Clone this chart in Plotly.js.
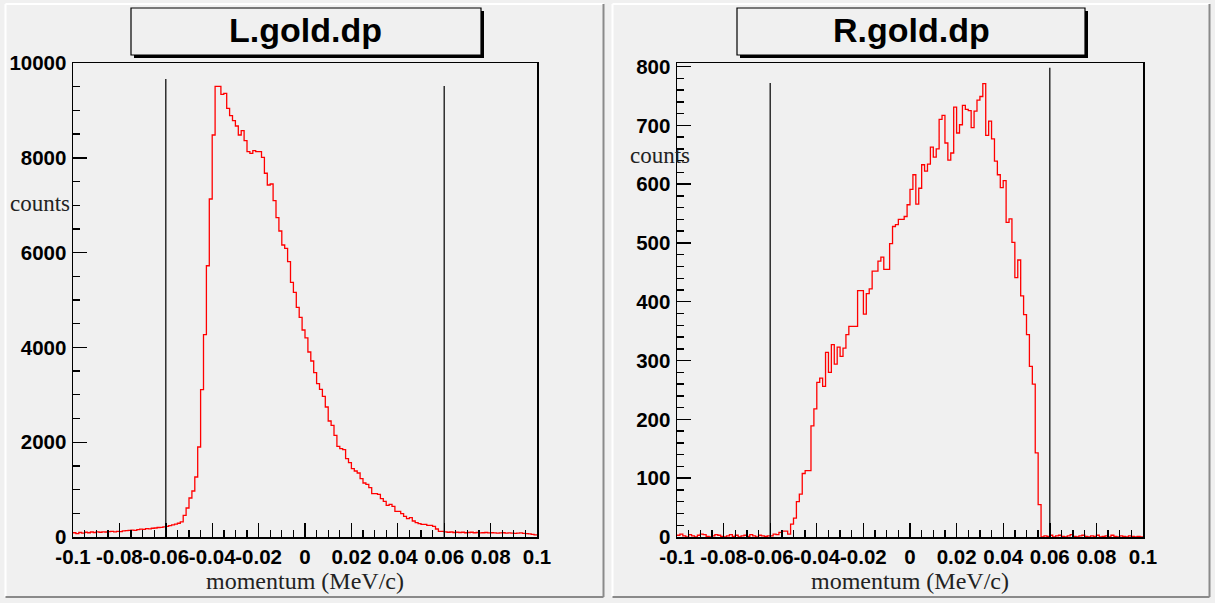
<!DOCTYPE html>
<html>
<head>
<meta charset="utf-8">
<script src="https://cdn.plot.ly/plotly-3.0.1.min.js"></script>
<style>
  html, body { margin: 0; padding: 0; background: #f0f0f0; }
  #chart { width: 1215px; height: 603px; }
</style>
</head>
<body>
<div id="chart"></div>
<script>
// ---------------- data ----------------
const histRange = [-0.1, 0.1];
const nBins = 160;

// L.gold.dp bin contents (160 bins, -0.1 .. 0.1)
const leftCounts = [
  90,70,95,80,100,90,105,95,110,100,110,105,115,120,110,120,115,130,135,140,
  145,140,155,165,160,175,170,185,190,200,205,215,225,240,255,270,290,
  317,458,612,823,970,1266,1899,3108,4268,5723,7131,8481,9508,9508,9340,9360,9043,8888,8783,8671,
  8481,8573,8361,8129,8095,8150,8129,8129,8010,7674,7426,7447,7096,6737,6456,6160,6091,5809,5373,5162,
  4846,4635,4367,
  4200,3903,3713,3468,3236,3116,2968,2743,2447,2356,2146,1913,1865,1844,1654,1570,1443,1392,1350,1232,
  1139,1112,1042,916,916,901,810,753,669,690,648,542,542,494,437,388,409,338,304,283,
  268,268,247,247,226,169,120,120,
  110,100,105,95,100,95,100,90,95,100,90,95,85,90,95,85,90,85,80,85,90,80,85,80,75,80,85,75,70,65,55,45
];

// R.gold.dp bin contents (160 bins, -0.1 .. 0.1)
const rightCounts = [
  3,5,2,0,4,2,0,3,5,4,1,0,2,4,3,1,0,2,4,1,3,0,2,3,1,4,2,0,3,2,1,2,
  2,5,4,8,10,10,5,22,32,60,73,108,113,113,189,218,263,270,256,314,280,327,294,323,307,321,344,
  358,358,358,419,419,379,414,422,452,452,
  469,476,455,455,499,528,531,540,540,545,
  565,591,616,566,593,633,622,634,663,646,
  660,710,717,670,641,653,731,687,701,734,
  727,725,696,724,743,749,771,683,707,677,
  639,616,594,606,535,541,501,441,471,410,
  378,344,290,260,143,55,
  0,2,1,3,0,2,3,1,0,2,4,1,0,2,3,1,0,2,1,3,0,1,2,0,3,1,0,2,1,0,2,1,0,1,0
];

// cut lines (x position and drawn height)
const cutX = [-0.06, 0.06];
const cutTopLeft = [9660, 9515];
const cutTopRight = [772, 798];

// axes ticks
const xTickVals = [-0.1,-0.08,-0.06,-0.04,-0.02,0,0.02,0.04,0.06,0.08,0.1];
const xTickText = ["-0.1","-0.08","-0.06","-0.04","-0.02","0","0.02","0.04","0.06","0.08","0.1"];
const yLeftTickVals = [0,2000,4000,6000,8000,10000];
const yLeftTickText = ["0","2000","4000","6000","8000","10000"];
const yRightTickVals = [0,100,200,300,400,500,600,700,800];
const yRightTickText = ["0","100","200","300","400","500","600","700","800"];
const yLeftRange = [0, 10000];
const yRightRange = [0, 806];

const titles = ["L.gold.dp", "R.gold.dp"];
const xTitle = "momentum (MeV/c)";
const yTitle = "counts";

// ---------------- geometry helpers ----------------
const W = 1215, H = 603;
const fx = px => px / W;
const fy = py => 1 - py / H;

const binW = (histRange[1] - histRange[0]) / nBins;
function edges() {
  const e = [];
  for (let i = 0; i <= nBins; i++) e.push(+(histRange[0] + i * binW).toFixed(6));
  return e;
}
function stepY(c) { return c.concat([c[c.length - 1]]); }

const RED = '#ff0000';
const traces = [
  { x: edges(), y: stepY(leftCounts), xaxis: 'x', yaxis: 'y', type: 'scatter', mode: 'lines',
    line: { color: RED, width: 1.3, shape: 'hv' }, hoverinfo: 'skip', showlegend: false },
  { x: edges(), y: stepY(rightCounts), xaxis: 'x2', yaxis: 'y2', type: 'scatter', mode: 'lines',
    line: { color: RED, width: 1.3, shape: 'hv' }, hoverinfo: 'skip', showlegend: false }
];
cutX.forEach((c, i) => {
  traces.push({ x: [c, c], y: [0, cutTopLeft[i]], xaxis: 'x', yaxis: 'y', type: 'scatter', mode: 'lines',
    line: { color: '#111', width: 1.3 }, hoverinfo: 'skip', showlegend: false });
  traces.push({ x: [c, c], y: [0, cutTopRight[i]], xaxis: 'x2', yaxis: 'y2', type: 'scatter', mode: 'lines',
    line: { color: '#111', width: 1.3 }, hoverinfo: 'skip', showlegend: false });
});

const tickFont = { family: 'Liberation Sans, Arial, sans-serif', size: 20.5, color: '#000', weight: 'bold' };
const serif = 'Liberation Serif, Times New Roman, serif';

function xAxis(dom, anchor) {
  return {
    domain: dom, anchor: anchor, range: histRange, showgrid: false, zeroline: false,
    showline: true, mirror: true, linecolor: '#000', linewidth: 1.5,
    ticks: 'inside', ticklen: 14, tickwidth: 1.4, tickcolor: '#000',
    tickmode: 'array', tickvals: xTickVals, ticktext: xTickText, tickfont: tickFont,
    tickangle: 0, ticklabelstandoff: 1,
    minor: { ticks: 'inside', ticklen: 7, tickwidth: 1.4, tickcolor: '#000', tickmode: 'linear', tick0: -0.1, dtick: 0.005, showgrid: false },
    title: { text: xTitle, font: { family: serif, size: 24, color: '#222' }, standoff: 0 },
    automargin: false, fixedrange: true
  };
}
function yAxis(dom, anchor, range, vals, text, minorD) {
  return {
    domain: dom, anchor: anchor, range: range, showgrid: false, zeroline: false,
    showline: true, mirror: true, linecolor: '#000', linewidth: 1.5,
    ticks: 'inside', ticklen: 14, tickwidth: 1.4, tickcolor: '#000',
    tickmode: 'array', tickvals: vals, ticktext: text, tickfont: tickFont, tickangle: 0,
    ticklabelstandoff: 1,
    minor: { ticks: 'inside', ticklen: 7, tickwidth: 1.4, tickcolor: '#000', tickmode: 'linear', tick0: 0, dtick: minorD, showgrid: false },
    automargin: false, fixedrange: true
  };
}

const yDom = [fy(537), fy(63)];
const layout = {
  width: W, height: H,
  margin: { l: 0, r: 0, t: 0, b: 0 },
  paper_bgcolor: '#f0f0f0', plot_bgcolor: '#f0f0f0',
  showlegend: false,
  xaxis: xAxis([fx(73), fx(537)], 'y'),
  yaxis: yAxis(yDom, 'x', yLeftRange, yLeftTickVals, yLeftTickText, 500),
  xaxis2: xAxis([fx(677), fx(1143)], 'y2'),
  yaxis2: yAxis(yDom, 'x2', yRightRange, yRightTickVals, yRightTickText, 20),
  shapes: [],
  annotations: []
};

// pad bevels
[[5.5, 603.5], [612.5, 1209.5]].forEach(p => {
  const [x0, x1] = p, y0 = 4, y1 = 597;
  const S = (a, b, c, d, col) => ({ type: 'line', xref: 'paper', yref: 'paper', x0: fx(a), y0: fy(b), x1: fx(c), y1: fy(d), line: { color: col, width: 2 }, layer: 'below' });
  layout.shapes.push(S(x0, y0, x1, y0, '#ffffff'));
  layout.shapes.push(S(x0, y0, x0, y1, '#ffffff'));
  layout.shapes.push(S(x1, y0, x1, y1, '#8a8a8a'));
  layout.shapes.push(S(x0, y1, x1, y1, '#8a8a8a'));
});

// title boxes with shadow
[[131, 481, 306], [737, 1085, 911]].forEach((b, i) => {
  const [x0, x1, cx] = b, y0 = 8, y1 = 55;
  layout.shapes.push({ type: 'rect', xref: 'paper', yref: 'paper', x0: fx(x0 + 3), x1: fx(x1 + 3), y0: fy(y1 + 3), y1: fy(y0 + 3),
    fillcolor: '#000', line: { width: 0 } });
  layout.shapes.push({ type: 'rect', xref: 'paper', yref: 'paper', x0: fx(x0), x1: fx(x1), y0: fy(y1), y1: fy(y0),
    fillcolor: '#f0f0f0', line: { color: '#000', width: 1.2 } });
  layout.annotations.push({ xref: 'paper', yref: 'paper', x: fx(cx), y: fy(30), xanchor: 'center', yanchor: 'middle',
    text: titles[i], showarrow: false, font: { family: 'Liberation Sans, Arial, sans-serif', size: 34, color: '#000', weight: 'bold' } });
});

// y titles (horizontal, ROOT style)
[[8, 203], [628, 155]].forEach(p => {
  layout.annotations.push({ xref: 'paper', yref: 'paper', x: fx(p[0]), y: fy(p[1]), xanchor: 'left', yanchor: 'middle',
    text: yTitle, showarrow: false, font: { family: serif, size: 23, color: '#222' } });
});

Plotly.newPlot('chart', traces, layout, { staticPlot: true, displayModeBar: false });
</script>
</body>
</html>
